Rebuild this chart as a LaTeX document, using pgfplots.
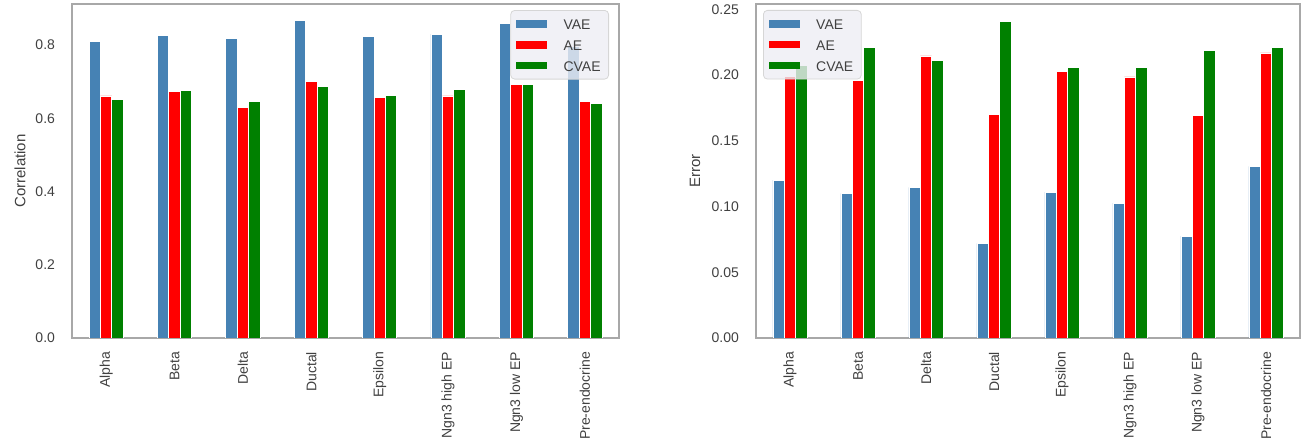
\documentclass[border=0pt]{standalone}
\usepackage{fontspec}
\setmainfont{Liberation Sans}
\usepackage{pgfplots}
\pgfplotsset{compat=1.18}
\definecolor{vae}{HTML}{4682B4}
\definecolor{ae}{HTML}{FF0000}
\definecolor{cvae}{HTML}{008000}
\definecolor{framec}{HTML}{A8A8A8}
\definecolor{txt}{HTML}{404040}
\definecolor{legfill}{HTML}{EEEEF4}
\definecolor{legdraw}{HTML}{D6D6D6}
\pgfplotsset{
 mybar/.style={
  scale only axis, height=167pt,
  ybar, bar width=5.7pt,
  xmin=-0.5, xmax=7.5, ymin=0,
  xtick={0,...,7},
  xticklabels={Alpha,Beta,Delta,Ductal,Epsilon,Ngn3 high EP,Ngn3 low EP,Pre-endocrine},
  major tick length=0pt,
  axis line style={draw=framec, line width=1pt},
  tick label style={font=\fontsize{7}{8}\selectfont, text=txt},
  /pgf/number format/assume math mode=true,
  xticklabel style={rotate=90, anchor=east},
  xticklabel shift=3.5pt,
  yticklabel shift=5pt,
  every axis y label/.style={rotate=90, anchor=center, font=\fontsize{7.5}{8}\selectfont, text=txt},
  legend style={font=\fontsize{7}{8}\selectfont, text=txt, fill=legfill, fill opacity=0.8, text opacity=1, draw=legdraw, line width=0.4pt, rounded corners=2pt, inner xsep=2.5pt, inner ysep=1.5pt, row sep=0pt, nodes={inner ysep=1.5pt, inner xsep=1.5pt, text height=5.5pt, text depth=1pt}, cells={anchor=west}},
  legend image code/.code={\path (0pt,-1pt) (22pt,5.5pt); \fill[#1, fill opacity=1, draw=none, sharp corners] (0pt,-1.4pt) rectangle (15.5pt,2.2pt);},
  every axis plot/.append style={draw=white, line width=0.4pt},
 }
}
\begin{document}
\begin{tikzpicture}
\useasboundingbox (0,0) rectangle (655.5pt,221pt);
\begin{axis}[mybar, at={(36pt,52pt)}, anchor=south west, width=273.5pt,
  ymax=0.912, ytick={0,0.2,0.4,0.6,0.8},
  yticklabel style={/pgf/number format/.cd, fixed, fixed zerofill, precision=1},
  ylabel={Correlation},
  ylabel style={at={(axis description cs:-0.095,0.5)}},
  legend style={at={(1,1)}, anchor=north east, xshift=-5pt, yshift=-3pt}]
\addplot[fill=vae, bar shift=-5.7pt] coordinates {(0,0.809) (1,0.825) (2,0.818) (3,0.867) (4,0.824) (5,0.830) (6,0.859) (7,0.795)};
\addplot[fill=ae, bar shift=0pt] coordinates {(0,0.661) (1,0.672) (2,0.630) (3,0.700) (4,0.656) (5,0.661) (6,0.692) (7,0.647)};
\addplot[fill=cvae, bar shift=5.7pt] coordinates {(0,0.652) (1,0.675) (2,0.645) (3,0.688) (4,0.663) (5,0.679) (6,0.693) (7,0.641)};
\legend{VAE,AE,CVAE}
\end{axis}
\begin{axis}[mybar, at={(378pt,52pt)}, anchor=south west, width=272pt,
  ymax=0.254, ytick={0,0.05,0.1,0.15,0.2,0.25},
  yticklabel style={/pgf/number format/.cd, fixed, fixed zerofill, precision=2},
  ylabel={Error},
  ylabel style={at={(axis description cs:-0.112,0.5)}},
  legend style={at={(0,1)}, anchor=north west, xshift=3.5pt, yshift=-3pt}]
\addplot[fill=vae, bar shift=-5.7pt] coordinates {(0,0.120) (1,0.110) (2,0.1145) (3,0.072) (4,0.111) (5,0.1025) (6,0.0775) (7,0.1305)};
\addplot[fill=ae, bar shift=0pt] coordinates {(0,0.199) (1,0.196) (2,0.2145) (3,0.170) (4,0.2025) (5,0.1985) (6,0.169) (7,0.2168)};
\addplot[fill=cvae, bar shift=5.7pt] coordinates {(0,0.207) (1,0.221) (2,0.211) (3,0.2405) (4,0.206) (5,0.206) (6,0.219) (7,0.221)};
\legend{VAE,AE,CVAE}
\end{axis}
\end{tikzpicture}
\end{document}
